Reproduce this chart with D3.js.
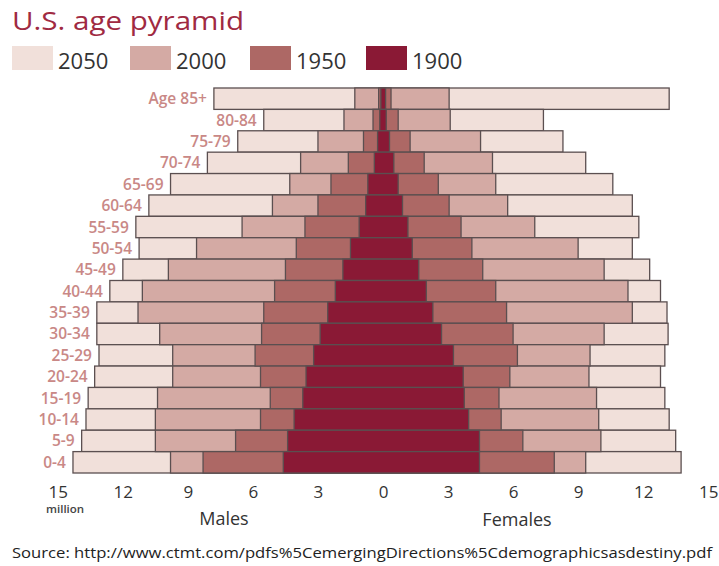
<!DOCTYPE html>
<html>
<head>
<meta charset="utf-8">
<script src="https://cdn.jsdelivr.net/npm/d3@7"></script>
<style>
  html, body { margin: 0; padding: 0; background: #fff; }
  svg { display: block; font-family: "Open Sans", "Noto Sans", sans-serif; }
</style>
</head>
<body>
<svg id="chart" width="719" height="566"></svg>
<script>
// ---------------- data (millions) ----------------
const ages = ["Age 85+","80-84","75-79","70-74","65-69","60-64","55-59","50-54","45-49",
              "40-44","35-39","30-34","25-29","20-24","15-19","10-14","5-9","0-4"];
const years = ["2050","2000","1950","1900"];

const male2050 = [7.8,5.5,6.7,8.1,9.8,10.8,11.4,11.25,12.0,12.6,13.2,13.2,13.1,13.3,13.6,13.7,13.9,14.3];
const male2000 = [1.3,1.8,3.0,3.8,4.3,5.1,6.5,8.6,9.9,11.1,11.3,10.3,9.7,9.7,10.4,10.5,10.5,9.8];
const male1950 = [0.2,0.46,0.9,1.6,2.4,3.0,3.6,4.0,4.5,5.0,5.5,5.6,5.9,5.65,5.2,5.65,6.8,8.3];
const male1900 = [0.1,0.15,0.25,0.4,0.7,0.8,1.1,1.5,1.85,2.2,2.55,2.9,3.2,3.55,3.7,4.1,4.4,4.6];

const female2050 = [13.2,7.4,8.3,9.35,10.6,11.5,11.8,11.5,12.3,12.8,13.1,13.15,13.0,12.8,13.0,13.2,13.5,13.75];
const female2000 = [3.05,3.1,4.5,5.05,5.2,5.75,7.0,9.0,10.2,11.3,11.5,10.2,9.55,9.5,9.85,9.95,10.05,9.35];
const female1950 = [0.37,0.7,1.25,1.9,2.55,3.05,3.6,4.1,4.6,5.2,5.7,6.0,6.2,5.85,5.35,5.45,6.45,7.9];
const female1900 = [0.12,0.15,0.3,0.5,0.7,0.9,1.15,1.35,1.65,2.0,2.3,2.7,3.25,3.7,3.75,3.95,4.45,4.45];

const maleTicks = [15,12,9,6,3];
const femaleTicks = [0,3,6,9,12,15];

const titleText = "U.S. age pyramid";
const sourceText = "Source: http://www.ctmt.com/pdfs%5CemergingDirections%5Cdemographicsasdestiny.pdf";

// ---------------- build ----------------
const males = {"2050": male2050, "2000": male2000, "1950": male1950, "1900": male1900};
const females = {"2050": female2050, "2000": female2000, "1950": female1950, "1900": female1900};
const colors = {"2050": "#f1e0da", "2000": "#d4aaa4", "1950": "#ad6865", "1900": "#8a1935"};

const svg = d3.select("#chart");
const cx = 383, span = 15 * 21.68;

const xM = d3.scaleLinear().domain([0, 15]).range([cx, cx - span]);
const xF = d3.scaleLinear().domain([0, 15]).range([cx, cx + span]);
const y = d3.scaleBand().domain(ages).range([88, 473]).padding(0);

// title
svg.append("text")
  .attr("x", 12).attr("y", 30)
  .attr("font-size", 26).attr("fill", "#a02a42")
  .attr("textLength", 232).attr("lengthAdjust", "spacingAndGlyphs")
  .text(titleText);

// legend
const legX = [12, 130, 250, 366];
const leg = svg.append("g");
years.forEach((yr, i) => {
  leg.append("rect").attr("x", legX[i]).attr("y", 46).attr("width", 41).attr("height", 24)
    .attr("fill", colors[yr]);
  leg.append("text").attr("x", legX[i] + 46).attr("y", 68.5)
    .attr("font-size", 22).attr("fill", "#333")
    .text(yr);
});

// bars
const bars = svg.append("g");
years.forEach(yr => {
  bars.selectAll(null)
    .data(ages.map((a, i) => ({age: a, m: males[yr][i], f: females[yr][i]})))
    .enter().append("rect")
    .attr("x", d => xM(d.m))
    .attr("y", d => y(d.age))
    .attr("width", d => xF(d.f) - xM(d.m))
    .attr("height", y.bandwidth())
    .attr("fill", colors[yr])
    .attr("stroke", "#5b4f50")
    .attr("stroke-width", 1.3);
});

// age labels
svg.append("g").selectAll("text")
  .data(ages.map((a, i) => ({age: a, m: male2050[i]})))
  .enter().append("text")
  .attr("x", d => xM(d.m) - 7)
  .attr("y", d => y(d.age) + y.bandwidth() / 2 + 5.5)
  .attr("text-anchor", "end")
  .attr("font-size", 15.5).attr("font-weight", 600)
  .attr("fill", "#c98886")
  .text(d => d.age);

// axes
const axM = svg.append("g").attr("transform", "translate(0,480)")
  .call(d3.axisBottom(xM).tickValues(maleTicks).tickSize(0).tickPadding(0).tickFormat(d3.format("d")));
const axF = svg.append("g").attr("transform", "translate(0,480)")
  .call(d3.axisBottom(xF).tickValues(femaleTicks).tickSize(0).tickPadding(0).tickFormat(d3.format("d")));
[axM, axF].forEach(ax => {
  ax.select(".domain").remove();
  ax.selectAll("text")
    .attr("dy", null).attr("y", 17.5)
    .attr("font-size", 17).attr("font-family", "\"Open Sans\", sans-serif")
    .attr("font-weight", 500)
    .attr("fill", "#333");
});

svg.append("text").attr("x", 46).attr("y", 513)
  .attr("font-size", 11.5).attr("font-weight", 600).attr("fill", "#444").text("million");
svg.append("text").attr("x", 224).attr("y", 525).attr("text-anchor", "middle")
  .attr("font-size", 18).attr("fill", "#333").text("Males");
svg.append("text").attr("x", 517).attr("y", 526).attr("text-anchor", "middle")
  .attr("font-size", 18).attr("fill", "#333").text("Females");

// source
svg.append("text").attr("x", 12).attr("y", 558)
  .attr("font-size", 15).attr("fill", "#222")
  .attr("textLength", 700).attr("lengthAdjust", "spacingAndGlyphs")
  .text(sourceText);
</script>
</body>
</html>
